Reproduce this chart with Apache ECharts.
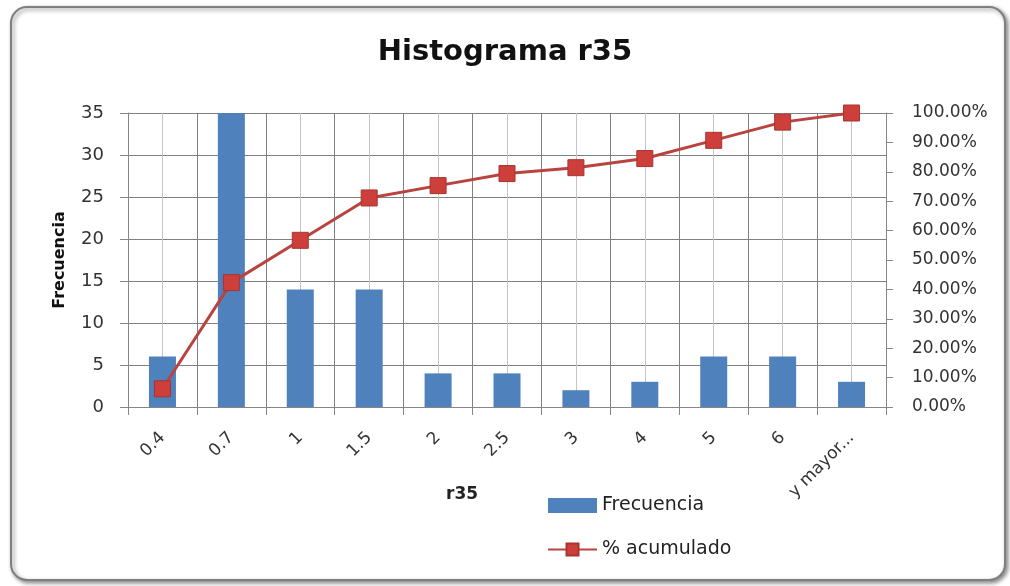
<!DOCTYPE html>
<html>
<head>
<meta charset="utf-8">
<title>Histograma r35</title>
<script src="https://cdn.jsdelivr.net/npm/echarts@6/dist/echarts.min.js"></script>
<style>
    html, body { margin: 0; padding: 0; background: #fff; }
    #chart { width: 1010px; height: 586px; }
</style>
</head>
<body>
<div id="chart"></div>
<script>
// clases del histograma (etiquetas del eje x)
var categories = ['0.4', '0.7', '1', '1.5', '2', '2.5', '3', '4', '5', '6', 'y mayor...'];
// frecuencia por clase
var frecuencia = [6, 35, 14, 14, 4, 4, 2, 3, 6, 6, 3];
// % acumulado
var acumulado = [6.2, 42.3, 56.7, 71.1, 75.3, 79.4, 81.4, 84.5, 90.7, 96.9, 100];
// ticks de los ejes
var freqTicks = [0, 5, 10, 15, 20, 25, 30, 35];
var pctTicks = [0, 10, 20, 30, 40, 50, 60, 70, 80, 90, 100];

var FONT = 'DejaVu Sans';
var AXIS_GRAY = '#868686';

// eje auxiliar con dos divisiones por clase, para las lineas claras del centro
var halfCategories = [];
for (var i = 0; i < categories.length * 2; i++) {
    halfCategories.push(String(i));
}

var chart = echarts.init(document.getElementById('chart'));

var option = {
    animation: false,
    backgroundColor: '#fff',
    graphic: {
        elements: [
            {
                type: 'rect',
                z: -10,
                silent: true,
                shape: {x: 11, y: 7, width: 994, height: 573, r: 16},
                style: {
                    fill: '#fff',
                    stroke: '#7f7f7f',
                    lineWidth: 2,
                    shadowBlur: 4,
                    shadowOffsetX: 2,
                    shadowOffsetY: 2,
                    shadowColor: 'rgba(0,0,0,0.45)'
                }
            }
        ]
    },
    title: [
        {
            text: 'Histograma r35',
            left: 'center',
            top: 33,
            textStyle: {fontFamily: FONT, fontSize: 29, fontWeight: 'bold', color: '#111'}
        },
        {
            text: 'r35',
            left: 441,
            top: 481,
            textStyle: {fontFamily: FONT, fontSize: 17, fontWeight: 'bold', color: '#222'}
        }
    ],
    legend: {
        orient: 'vertical',
        left: 542,
        top: 491,
        itemWidth: 49,
        itemHeight: 15,
        itemGap: 25,
        textStyle: {fontFamily: FONT, fontSize: 19, color: '#222'},
        data: [
            {name: 'Frecuencia', icon: 'rect'},
            {name: '% acumulado'}
        ]
    },
    grid: {
        left: 128,
        right: 124,
        top: 113,
        bottom: 179,
        containLabel: false
    },
    xAxis: [
        {
            type: 'category',
            data: categories,
            boundaryGap: true,
            axisLine: {lineStyle: {color: AXIS_GRAY, width: 1}},
            axisTick: {show: true, length: 8, interval: 0, lineStyle: {color: AXIS_GRAY}},
            axisLabel: {
                rotate: 45,
                interval: 0,
                margin: 28,
                fontFamily: FONT,
                fontSize: 17,
                color: '#333'
            },
            splitLine: {show: true, interval: 0, lineStyle: {color: '#808080', width: 1}}
        },
        {
            type: 'category',
            data: halfCategories,
            boundaryGap: true,
            position: 'bottom',
            axisLine: {show: false},
            axisTick: {show: false},
            axisLabel: {show: false},
            splitLine: {
                show: true,
                interval: function (index) {
                    return index % 2 === 1;
                },
                lineStyle: {color: '#c4c4c4', width: 1}
            }
        }
    ],
    yAxis: [
        {
            type: 'value',
            name: 'Frecuencia',
            nameLocation: 'middle',
            nameGap: 60,
            nameTextStyle: {fontFamily: FONT, fontSize: 16, fontWeight: 'bold', color: '#111'},
            min: freqTicks[0],
            max: freqTicks[freqTicks.length - 1],
            interval: freqTicks[1] - freqTicks[0],
            axisLine: {show: true, lineStyle: {color: AXIS_GRAY}},
            axisTick: {show: true, length: 8, lineStyle: {color: AXIS_GRAY}},
            axisLabel: {margin: 24, fontFamily: FONT, fontSize: 18, color: '#333'},
            splitLine: {show: true, lineStyle: {color: '#808080', width: 1}}
        },
        {
            type: 'value',
            position: 'right',
            min: pctTicks[0],
            max: pctTicks[pctTicks.length - 1],
            interval: pctTicks[1] - pctTicks[0],
            axisLine: {show: true, lineStyle: {color: AXIS_GRAY}},
            axisTick: {show: true, length: 7, lineStyle: {color: AXIS_GRAY}},
            axisLabel: {
                margin: 26,
                fontFamily: FONT,
                fontSize: 17,
                color: '#333',
                formatter: function (value) {
                    return value.toFixed(2) + '%';
                }
            },
            splitLine: {show: false}
        }
    ],
    series: [
        {
            name: 'Frecuencia',
            type: 'bar',
            xAxisIndex: 0,
            yAxisIndex: 0,
            barWidth: 27,
            data: frecuencia,
            itemStyle: {color: '#4f81bd'}
        },
        {
            name: '% acumulado',
            type: 'line',
            xAxisIndex: 0,
            yAxisIndex: 1,
            data: acumulado,
            symbol: 'rect',
            symbolSize: 16,
            lineStyle: {color: '#b9443f', width: 3},
            itemStyle: {color: '#cc3f3a', borderColor: '#a83430', borderWidth: 1}
        }
    ]
};

chart.setOption(option);
</script>
</body>
</html>
